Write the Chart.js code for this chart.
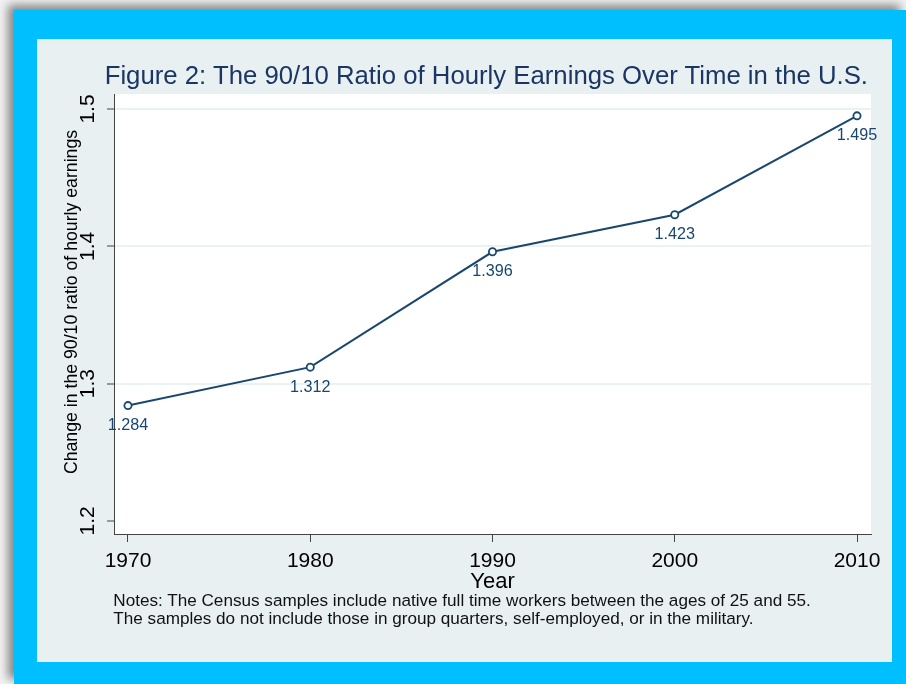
<!DOCTYPE html>
<html>
<head>
<meta charset="utf-8">
<script src="https://cdn.jsdelivr.net/npm/chart.js@4.4.1/dist/chart.umd.min.js"></script>
<style>
  html, body { margin: 0; padding: 0; }
  body { width: 906px; height: 684px; position: relative; overflow: hidden; background: #f2f2f2; font-family: "Liberation Sans", Arial, Helvetica, sans-serif; }
  #frame { position: absolute; left: 14px; top: 10px; width: 892px; height: 674px; background: #00bfff; box-shadow: -6px -5px 9px rgba(0,0,0,0.45); }
  #panel { position: absolute; left: 37px; top: 39px; width: 855px; height: 623px; background: #e8f0f2; }
  #chart { position: absolute; left: 37px; top: 39px; }
  .txt { position: absolute; white-space: nowrap; line-height: 1; display: inline-block; }
  #title { color: #1b3564; }
  .note { color: #111; }
</style>
</head>
<body>
<div id="frame"></div>
<div id="panel"></div>
<canvas id="chart" width="855" height="623"></canvas>
<span id="title" class="txt">Figure 2: The 90/10 Ratio of Hourly Earnings Over Time in the U.S.</span>
<span id="note1" class="txt note">Notes: The Census samples include native full time workers between the ages of 25 and 55.</span>
<span id="note2" class="txt note">The samples do not include those in group quarters, self-employed, or in the military.</span>
<script>
const years = [1970, 1980, 1990, 2000, 2010];
const ratios = [1.284, 1.312, 1.396, 1.423, 1.495];
const xTicks = [1970, 1980, 1990, 2000, 2010];
const yTicks = [1.2, 1.3, 1.4, 1.5];
const yTickLabels = ["1.2", "1.3", "1.4", "1.5"];
const yTitle = "Change in the 90/10 ratio of hourly earnings";
const xTitle = "Year";

const FONT = '"Liberation Sans", Arial, Helvetica, sans-serif';
const NAVY = '#1a476f';

// size html text so it spans the measured width, then put its baseline where it belongs
function fitLine(el, target, base) {
    el.style.fontSize = base + 'px';
    let w = el.getBoundingClientRect().width;
    let fs = base * target / w;
    el.style.fontSize = fs + 'px';
    return fs;
}
function place(el, left, baseline, fs) {
    el.style.fontSize = fs + 'px';
    el.style.left = left + 'px';
    el.style.top = (baseline - 0.8465 * fs) + 'px';
}
const title = document.getElementById('title');
place(title, 104.7, 85, fitLine(title, 763.6, 25));
const note1 = document.getElementById('note1');
const note2 = document.getElementById('note2');
let nfs = fitLine(note1, 697.7, 16);
place(note1, 113.3, 607, nfs);
place(note2, 113.3, 624.3, nfs);

const extras = {
    id: 'extras',
    beforeDraw(chart) {
        let {ctx, chartArea: a} = chart;
        ctx.save();
        ctx.fillStyle = '#fff';
        ctx.fillRect(a.left, a.top, a.right - a.left, a.bottom - a.top);
        ctx.restore();
    },
    afterDraw(chart) {
        let ctx = chart.ctx;
        let y = chart.scales.y;
        ctx.save();
        ctx.fillStyle = '#000';
        ctx.textAlign = 'center';
        ctx.textBaseline = 'middle';
        // rotated y tick labels
        ctx.font = '21px ' + FONT;
        y.ticks.forEach(t => {
            ctx.save();
            ctx.translate(51.3, y.getPixelForValue(t.value));
            ctx.rotate(-Math.PI / 2);
            ctx.fillText(yTickLabels[yTicks.indexOf(t.value)], 0, 0);
            ctx.restore();
        });
        // y axis title
        ctx.font = '17.7px ' + FONT;
        ctx.save();
        ctx.translate(34.7, 263);
        ctx.rotate(-Math.PI / 2);
        ctx.fillText(yTitle, 0, 0);
        ctx.restore();
        // value labels under the markers
        ctx.fillStyle = NAVY;
        ctx.font = '16.2px ' + FONT;
        chart.getDatasetMeta(0).data.forEach((p, i) => {
            ctx.fillText(ratios[i].toFixed(3), p.x, p.y + 20);
        });
        ctx.restore();
    }
};

Chart.defaults.font.family = FONT;
Chart.defaults.color = '#000';

var chart = new Chart(document.getElementById('chart'), {
    type: 'line',
    data: {
        datasets: [{
            data: years.map((yr, i) => ({x: yr, y: ratios[i]})),
            borderColor: NAVY,
            borderWidth: 2,
            tension: 0,
            pointRadius: 3.6,
            pointBorderWidth: 1.8,
            pointBorderColor: NAVY,
            pointBackgroundColor: '#fff',
        }]
    },
    options: {
        animation: false,
        responsive: false,
        layout: {padding: {top: 55, left: 0, right: 21, bottom: 68}},
        plugins: {
            legend: {display: false},
            title: {display: false},
            tooltip: {enabled: false},
        },
        scales: {
            x: {
                type: 'linear',
                min: 1969.232,
                max: 2010.768,
                afterBuildTicks: s => { s.ticks = xTicks.map(v => ({value: v})); },
                afterFit: s => { s.height = 60; },
                ticks: {
                    font: {size: 21, lineHeight: 1},
                    color: '#000',
                    padding: 9,
                    maxRotation: 0,
                    callback: v => String(v),
                },
                grid: {drawOnChartArea: false, tickLength: 8, tickColor: '#444', tickWidth: 1},
                border: {color: '#444', width: 1},
                title: {display: true, text: xTitle, font: {size: 22, lineHeight: 1}, color: '#000', padding: {top: 0, bottom: 1}},
            },
            y: {
                min: 1.1905,
                max: 1.5109,
                afterBuildTicks: s => { s.ticks = yTicks.map(v => ({value: v})); },
                afterFit: s => { s.width = 77; },
                ticks: {display: false},
                grid: {
                    color: ctx => ctx.tick && ctx.tick.value === 1.2 ? 'rgba(0,0,0,0)' : '#eaf2f3',
                    lineWidth: 2,
                    tickLength: 7,
                    tickColor: '#444',
                    tickWidth: 1,
                },
                border: {color: '#444', width: 1},
            }
        }
    },
    plugins: [extras]
});
</script>
</body>
</html>
